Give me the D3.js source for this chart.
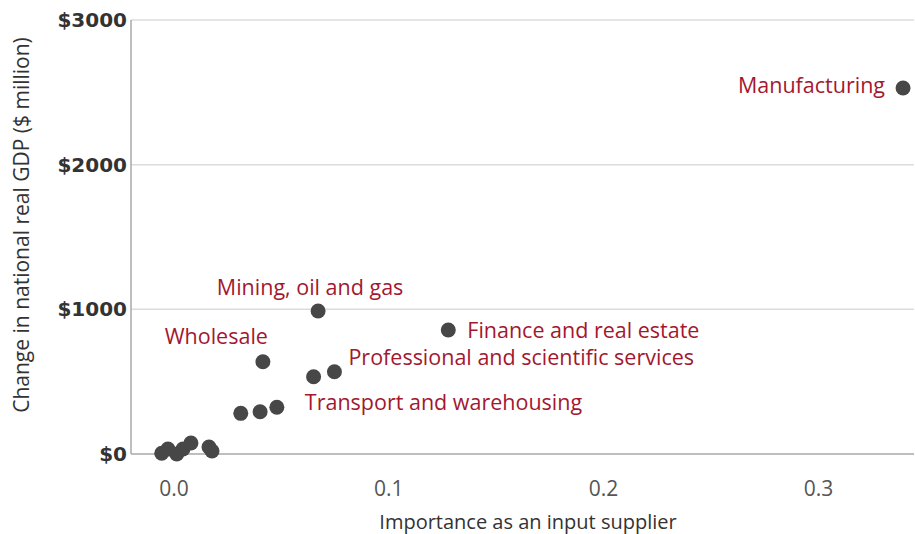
<!DOCTYPE html>
<html lang="en">
<head>
<meta charset="utf-8">
<style>
  body { margin: 0; background: #fff; }
  svg { font-family: "Open Sans", sans-serif; }
</style>
</head>
<body>
<script src="https://d3js.org/d3.v7.min.js"></script>
<script>
// industries: importance as input supplier vs change in national real GDP ($ million)
var importance = [0.3394, 0.0671, 0.1277, 0.0414, 0.0747, 0.0650, 0.0311, 0.0401, 0.0479,
                  -0.0057, -0.0028, 0.0013, 0.0042, 0.0079, 0.0163, 0.0177];
var gdpChange = [2530, 988, 857, 638, 569, 534, 281, 292, 323,
                 5, 35, 0, 35, 76, 48, 21];
var pointNames = ["Manufacturing", "Mining, oil and gas", "Finance and real estate", "Wholesale",
                  "Professional and scientific services", "", "", "", "Transport and warehousing",
                  "", "", "", "", "", "", ""];
// label placement relative to its point: [dx, dy, anchor]
var labelOffsets = [[-18, 5, "end"], [-8, -16, "middle"], [19, 8, "start"], [5, -18, "end"],
                    [14, -7, "start"], null, null, null, [28, 3, "start"],
                    null, null, null, null, null, null, null];
var xTicks = [0, 0.1, 0.2, 0.3];
var yTicks = [0, 1000, 2000, 3000];

var width = 915, height = 534;
var margin = { left: 131, right: 1, top: 20, bottom: 80 };

var svg = d3.select("body").append("svg")
  .attr("width", width)
  .attr("height", height);

var x = d3.scaleLinear()
  .domain([-0.02, 0.3445])
  .range([margin.left, width - margin.right]);
var y = d3.scaleLinear()
  .domain([0, 3000])
  .range([height - margin.bottom, margin.top]);

// gridlines
svg.append("g")
  .selectAll("line")
  .data(yTicks.filter(function (d) { return d > 0; }))
  .join("line")
  .attr("x1", margin.left)
  .attr("x2", width - margin.right)
  .attr("y1", function (d) { return y(d); })
  .attr("y2", function (d) { return y(d); })
  .attr("stroke", "#dcdcdc")
  .attr("stroke-width", 1.5);

// axis lines
svg.append("line")
  .attr("x1", margin.left).attr("x2", width - margin.right)
  .attr("y1", y(0)).attr("y2", y(0))
  .attr("stroke", "#a8a8a8").attr("stroke-width", 1.5);
svg.append("line")
  .attr("x1", margin.left).attr("x2", margin.left)
  .attr("y1", y(3000)).attr("y2", y(0))
  .attr("stroke", "#a8a8a8").attr("stroke-width", 1.5);

// y tick labels
svg.append("g")
  .selectAll("text")
  .data(yTicks)
  .join("text")
  .attr("x", margin.left - 4)
  .attr("y", function (d) { return y(d) + 7; })
  .attr("text-anchor", "end")
  .attr("font-family", "DejaVu Sans, sans-serif")
  .attr("font-size", 20)
  .attr("font-weight", "bold")
  .attr("fill", "#333")
  .text(function (d) { return "$" + d; });

// x tick labels
svg.append("g")
  .selectAll("text")
  .data(xTicks)
  .join("text")
  .attr("x", function (d) { return x(d); })
  .attr("y", 496)
  .attr("text-anchor", "middle")
  .attr("font-size", 21)
  .attr("fill", "#555")
  .text(function (d) { return d3.format(".1f")(d); });

// axis titles
svg.append("text")
  .attr("x", 528)
  .attr("y", 529)
  .attr("text-anchor", "middle")
  .attr("font-size", 20)
  .attr("fill", "#333")
  .text("Importance as an input supplier");
svg.append("text")
  .attr("transform", "translate(29,225) rotate(-90)")
  .attr("text-anchor", "middle")
  .attr("font-size", 21)
  .attr("fill", "#333")
  .text("Change in national real GDP ($ million)");

// points
var points = importance.map(function (d, i) {
  return { x: d, y: gdpChange[i], name: pointNames[i], off: labelOffsets[i] };
});

svg.append("g")
  .selectAll("circle")
  .data(points)
  .join("circle")
  .attr("cx", function (d) { return x(d.x); })
  .attr("cy", function (d) { return y(d.y); })
  .attr("r", 7.5)
  .attr("fill", "#474747");

// labels
svg.append("g")
  .selectAll("text")
  .data(points.filter(function (d) { return d.name; }))
  .join("text")
  .attr("x", function (d) { return x(d.x) + d.off[0]; })
  .attr("y", function (d) { return y(d.y) + d.off[1]; })
  .attr("text-anchor", function (d) { return d.off[2]; })
  .attr("font-size", 21.5)
  .attr("fill", "#a3172f")
  .text(function (d) { return d.name; });
</script>
</body>
</html>
